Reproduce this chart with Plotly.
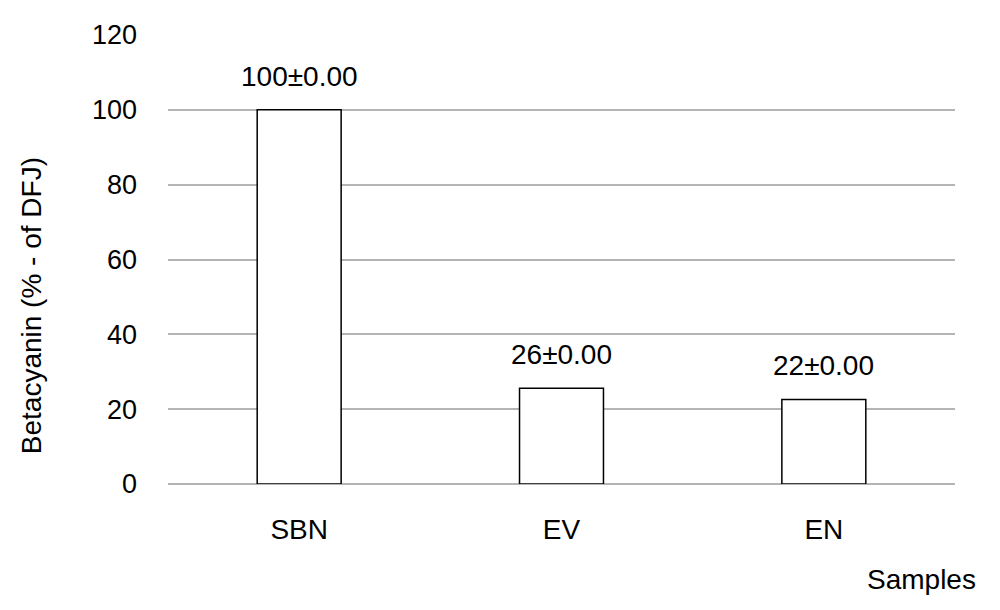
import plotly.graph_objects as go

categories = ["SBN", "EV", "EN"]
values = [100, 25.6, 22.6]
labels = ["100±0.00", "26±0.00", "22±0.00"]
y_ticks = [0, 20, 40, 60, 80, 100, 120]

FONT = "Liberation Sans, Arial, Helvetica, sans-serif"
FS = 28

fig = go.Figure()
fig.add_trace(go.Bar(
    x=categories, y=values, width=0.32,
    marker=dict(color="white", line=dict(color="black", width=1.5)),
    showlegend=False, hoverinfo="skip",
))

for c, v, t in zip(categories, values, labels):
    fig.add_annotation(x=c, y=v, text=t, showarrow=False, yanchor="bottom",
                       yshift=16, font=dict(family=FONT, size=FS, color="black"))

fig.add_annotation(xref="paper", yref="paper", x=0, y=0.396, xanchor="center", yanchor="middle",
                   xshift=-137, text="Betacyanin (% - of DFJ)", textangle=-90, showarrow=False,
                   font=dict(family=FONT, size=FS, color="black"))
fig.add_annotation(xref="paper", yref="paper", x=1.0, y=0, xanchor="center", yanchor="middle",
                   xshift=-34, yshift=-95, text="Samples", showarrow=False,
                   font=dict(family=FONT, size=FS, color="black"))

fig.update_layout(
    width=1000, height=610,
    margin=dict(l=160, r=53, t=27, b=134),
    paper_bgcolor="white", plot_bgcolor="white",
    font=dict(family=FONT, size=FS, color="black"),
    bargap=0.68,
    xaxis=dict(showgrid=False, showline=False, zeroline=False, ticks="",
               ticklabelstandoff=26, tickfont=dict(size=FS)),
    yaxis=dict(range=[0, 120], tickvals=y_ticks, showgrid=True, gridcolor="#b4b4b4",
               gridwidth=1.5, zeroline=True, zerolinecolor="#b4b4b4", zerolinewidth=1.5,
               showline=False, ticks="", ticklabelstandoff=30, tickfont=dict(size=27)),
)

fig.write_html("out.html")
